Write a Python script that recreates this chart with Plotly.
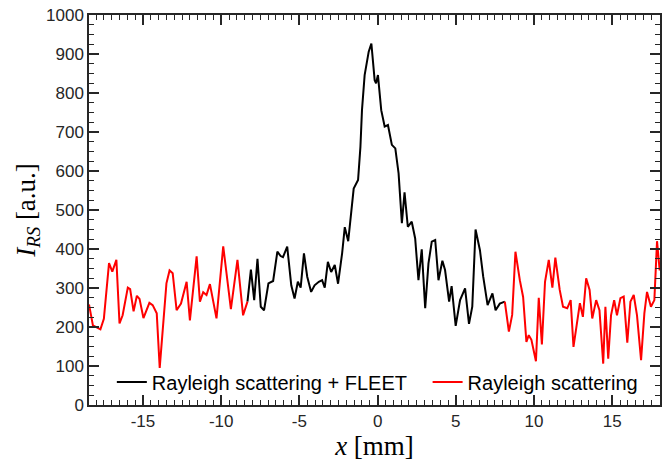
import plotly.graph_objects as go

# Left red segment (Rayleigh scattering only)
x_red_left = [-18.45, -18.2, -17.87, -17.72, -17.5, -17.17, -16.96, -16.7, -16.5, -16.3,
              -15.97, -15.82, -15.6, -15.39, -15.22, -14.97, -14.59, -14.38, -14.12, -13.93,
              -13.5, -13.3, -13.1, -12.85, -12.57, -12.21, -12.0, -11.57, -11.36, -11.15,
              -10.94, -10.72, -10.3, -9.87, -9.38, -8.96, -8.6, -8.32]
y_red_left = [258, 204, 197, 194, 221, 364, 342, 372, 209, 230,
              301, 297, 240, 280, 272, 223, 262, 256, 235, 95,
              312, 345, 338, 243, 260, 316, 217, 381, 265, 289,
              282, 310, 222, 407, 246, 372, 230, 265]

# Central black segment (Rayleigh scattering + FLEET)
x_black = [-8.32, -8.1, -7.89, -7.68, -7.47, -7.26, -6.98, -6.68, -6.41, -6.2,
           -6.05, -5.78, -5.52, -5.31, -5.1, -4.92, -4.71, -4.5, -4.25, -4.03,
           -3.76, -3.55, -3.38, -3.18, -2.97, -2.74, -2.53, -2.27, -2.1, -1.88,
           -1.53, -1.25, -1.1, -1.0, -0.83, -0.57, -0.4, -0.19, -0.1, 0.02,
           0.23, 0.45, 0.66, 0.91, 1.13, 1.34, 1.55, 1.72, 1.93, 2.18,
           2.4, 2.61, 2.82, 3.04, 3.25, 3.46, 3.68, 3.89, 4.14, 4.31,
           4.57, 4.73, 4.99, 5.27, 5.59, 5.84, 6.05, 6.26, 6.54, 6.75,
           7.03, 7.18, 7.34, 7.54, 7.81, 8.13]
y_black = [265, 347, 269, 375, 252, 243, 312, 318, 393, 382,
           379, 406, 307, 273, 316, 301, 389, 329, 290, 307,
           316, 320, 301, 367, 341, 359, 311, 389, 456, 420,
           555, 577, 662, 756, 846, 906, 927, 833, 825, 846,
           756, 714, 718, 667, 658, 594, 466, 545, 457, 470,
           427, 320, 399, 248, 363, 419, 423, 320, 370, 346,
           265, 305, 203, 269, 299, 208, 252, 450, 397, 329,
           256, 269, 286, 243, 260, 265]

# Right red segment (Rayleigh scattering only)
x_red_right = [8.13, 8.39, 8.6, 8.81, 9.09, 9.3, 9.51, 9.66, 9.83, 10.12,
               10.3, 10.5, 10.7, 10.94, 11.17, 11.36, 11.64, 11.85, 12.12, 12.34,
               12.52, 12.72, 12.93, 13.12, 13.33, 13.55, 13.72, 13.97, 14.18, 14.42,
               14.56, 14.74, 14.92, 15.12, 15.3, 15.52, 15.73, 15.96, 16.16, 16.37,
               16.58, 16.84, 17.05, 17.22, 17.47, 17.69, 17.86, 18.03]
y_red_right = [265, 188, 231, 393, 320, 277, 162, 179, 167, 112,
               275, 155, 316, 372, 301, 378, 295, 252, 248, 269,
               149, 205, 261, 226, 325, 295, 222, 269, 243, 106,
               252, 119, 230, 269, 230, 274, 278, 160, 265, 282,
               230, 115, 235, 290, 252, 269, 420, 345]

x_ticks = [-15, -10, -5, 0, 5, 10, 15]
y_ticks = [0, 100, 200, 300, 400, 500, 600, 700, 800, 900, 1000]

x_red = x_red_left + [None] + x_red_right
y_red = y_red_left + [None] + y_red_right

fig = go.Figure()
fig.add_trace(go.Scatter(x=x_black, y=y_black, mode="lines",
                         line=dict(color="black", width=2),
                         name="Rayleigh scattering + FLEET", legend="legend"))
fig.add_trace(go.Scatter(x=x_red, y=y_red, mode="lines",
                         line=dict(color="#ff0000", width=2),
                         name="Rayleigh scattering", connectgaps=False, legend="legend2"))

tickfont = dict(family="Liberation Sans, Arial, sans-serif", size=17, color="#262626")
titlefont = dict(family="Liberation Serif, Times New Roman, serif", size=27, color="black")
legfont = dict(family="Liberation Sans, Arial, sans-serif", size=20, color="black")

fig.update_layout(
    width=663, height=462,
    margin=dict(l=89, r=1, t=15, b=57),
    plot_bgcolor="white", paper_bgcolor="white",
    showlegend=True,
    legend=dict(orientation="h", x=0.04, y=0.059, xanchor="left", yanchor="middle",
                bgcolor="rgba(0,0,0,0)", font=legfont, itemwidth=30),
    legend2=dict(orientation="h", x=0.593, y=0.059, xanchor="left", yanchor="middle",
                 bgcolor="rgba(0,0,0,0)", font=legfont, itemwidth=30),
    xaxis=dict(range=[-18.45, 18.05], tickvals=x_ticks, ticktext=[str(v) for v in x_ticks],
               ticks="inside", ticklen=10, tickwidth=1.5, tickcolor="#262626",
               showline=True, linecolor="#262626", linewidth=1.5, mirror="ticks",
               showgrid=False, zeroline=False, tickfont=tickfont,
               minor=dict(dtick=0.5, tick0=0, ticks="inside", ticklen=5, tickwidth=1.2,
                          tickcolor="#262626", showgrid=False),
               title=dict(text="<i>x</i> [mm]", font=titlefont, standoff=6)),
    yaxis=dict(range=[0, 1000], tickvals=y_ticks, ticktext=[str(v) for v in y_ticks],
               ticks="inside", ticklen=10, tickwidth=1.5, tickcolor="#262626",
               showline=True, linecolor="#262626", linewidth=1.5, mirror="ticks",
               showgrid=False, zeroline=False, tickfont=tickfont,
               minor=dict(dtick=25, tick0=0, ticks="inside", ticklen=5, tickwidth=1.2,
                          tickcolor="#262626", showgrid=False),
               title=dict(text="<i>I</i><sub><i>RS</i></sub> [a.u.]", font=titlefont, standoff=3)),
)

fig.write_html("out.html")
